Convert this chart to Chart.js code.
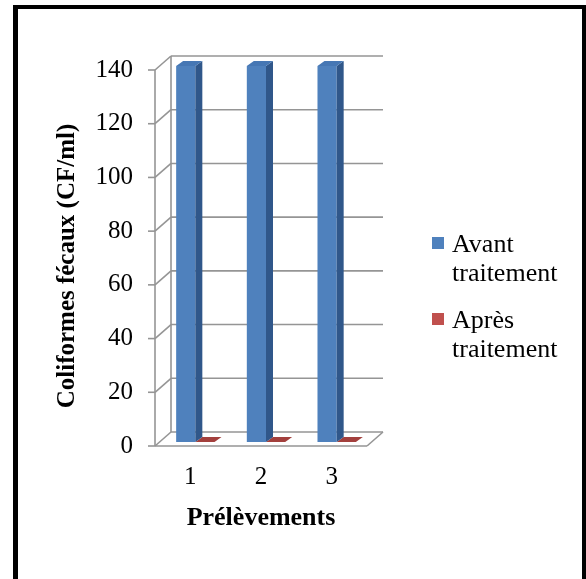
<!DOCTYPE html>
<html lang="fr">
<head>
  <meta charset="UTF-8">
  <title>Coliformes fécaux</title>
  <script src="https://cdn.jsdelivr.net/npm/chart.js@4"></script>
  <style>
    html, body { margin: 0; padding: 0; background: #fff; overflow: hidden; }
    canvas { display: block; }
  </style>
</head>
<body>
  <canvas id="chart" width="586" height="579"></canvas>

  <script>
    // Données
    const categories = ['1', '2', '3'];
    const avantTraitement = [140, 140, 140];
    const apresTraitement = [0, 0, 0];
    const seriesLabels = [['Avant', 'traitement'], ['Après', 'traitement']];
    const yMin = 0, yMax = 140, yStep = 20;

    const FONT = "'Liberation Serif', 'Times New Roman', serif";
    const GRID = '#959595';

    // profondeur du mur du fond et position des barres dans la profondeur
    const wall = { dx: 16, dy: -14 };
    const barShift = { dx: 5, dy: -4 };
    const barDepth = { dx: 7, dy: -5 };

    const faces = [
      { front: '#4F81BD', top: '#4677B4', side: '#30578A' },
      { front: '#C0504D', top: '#A3403D', side: '#8A3432' }
    ];

    function line(ctx, x1, y1, x2, y2) {
      ctx.beginPath();
      ctx.moveTo(x1, y1);
      ctx.lineTo(x2, y2);
      ctx.stroke();
    }

    function poly(ctx, pts, color) {
      ctx.beginPath();
      ctx.moveTo(pts[0][0], pts[0][1]);
      for (let i = 1; i < pts.length; i++) ctx.lineTo(pts[i][0], pts[i][1]);
      ctx.closePath();
      ctx.fillStyle = color;
      ctx.fill();
    }

    // cadre noir, murs, sol, faces 3D des barres, titre Y et légende
    const decor = {
      id: 'decor',
      beforeDraw(chart) {
        const ctx = chart.ctx;
        ctx.save();
        ctx.fillStyle = '#fff';
        ctx.fillRect(0, 0, chart.width, chart.height);
        ctx.fillStyle = '#000';
        ctx.fillRect(13, 5, 5, chart.height);
        ctx.fillRect(13, 5, 573, 4);
        ctx.fillRect(582, 5, 4, chart.height);
        ctx.restore();
      },
      beforeDatasetsDraw(chart) {
        const ctx = chart.ctx;
        const { left, right, top, bottom } = chart.chartArea;
        const ys = chart.scales.y;
        ctx.save();
        ctx.strokeStyle = GRID;
        ctx.lineWidth = 1.6;
        ys.ticks.forEach(t => {
          const py = ys.getPixelForValue(t.value);
          line(ctx, left - 7, py, left, py);
          line(ctx, left, py, left + wall.dx, py + wall.dy);
          line(ctx, left + wall.dx, py + wall.dy, right + wall.dx, py + wall.dy);
        });
        line(ctx, left, top, left, bottom);
        line(ctx, left + wall.dx, top + wall.dy, left + wall.dx, bottom + wall.dy);
        line(ctx, left, bottom, right, bottom);
        line(ctx, right, bottom, right + wall.dx, bottom + wall.dy);
        ctx.restore();

        ctx.save();
        ctx.translate(barShift.dx, barShift.dy);
      },
      afterDatasetsDraw(chart) {
        const ctx = chart.ctx;
        const { dx, dy } = barDepth;
        for (let d = chart.data.datasets.length - 1; d >= 0; d--) {
          const c = faces[d];
          chart.getDatasetMeta(d).data.forEach(bar => {
            const p = bar.getProps(['x', 'y', 'base', 'width'], true);
            const l = p.x - p.width / 2, r = p.x + p.width / 2;
            poly(ctx, [[r, p.y], [r + dx, p.y + dy], [r + dx, p.base + dy], [r, p.base]], c.side);
            poly(ctx, [[l, p.y], [r, p.y], [r + dx, p.y + dy], [l + dx, p.y + dy]], c.top);
          });
        }
        ctx.restore();
      },
      afterDraw(chart) {
        const ctx = chart.ctx;
        ctx.save();
        ctx.fillStyle = '#000';

        // titre de l'axe Y
        ctx.translate(68, 266);
        ctx.rotate(-Math.PI / 2);
        ctx.font = 'bold 25px ' + FONT;
        ctx.textAlign = 'center';
        ctx.textBaseline = 'middle';
        ctx.fillText('Coliformes fécaux (CF/ml)', 0, 0);
        ctx.setTransform(1, 0, 0, 1, 0, 0);

        // légende
        ctx.font = '26px ' + FONT;
        ctx.textAlign = 'left';
        ctx.textBaseline = 'alphabetic';
        chart.data.datasets.forEach((ds, i) => {
          const y0 = 237 + i * 76;
          ctx.fillStyle = ds.backgroundColor;
          ctx.fillRect(432, y0, 12, 12);
          ctx.fillStyle = '#000';
          seriesLabels[i].forEach((txt, k) => {
            ctx.fillText(txt, 452, y0 + 15 + k * 29);
          });
        });
        ctx.restore();
      }
    };

    new Chart(document.getElementById('chart'), {
      type: 'bar',
      data: {
        labels: categories,
        datasets: [
          { label: seriesLabels[0].join(' '), data: avantTraitement, backgroundColor: faces[0].front, clip: false },
          { label: seriesLabels[1].join(' '), data: apresTraitement, backgroundColor: faces[1].front, clip: false }
        ]
      },
      options: {
        responsive: false,
        animation: false,
        devicePixelRatio: 1,
        layout: { padding: { top: 70, right: 219, bottom: 0, left: 0 } },
        datasets: { bar: { categoryPercentage: 38 / 70, barPercentage: 1, borderWidth: 0 } },
        plugins: { legend: { display: false }, tooltip: { enabled: false } },
        scales: {
          x: {
            grid: { display: false, drawTicks: false },
            border: { display: false },
            ticks: { color: '#000', padding: 16, font: { family: FONT, size: 25 } },
            title: {
              display: true,
              text: 'Prélèvements',
              color: '#000',
              font: { family: FONT, size: 26, weight: 'bold' },
              padding: { top: 0, bottom: 45 }
            },
            afterFit(s) { s.height = 133; }
          },
          y: {
            min: yMin,
            max: yMax,
            grid: { display: false, drawTicks: false },
            border: { display: false },
            ticks: { stepSize: yStep, color: '#000', padding: 22, font: { family: FONT, size: 25 } },
            afterFit(s) { s.width = 155; }
          }
        }
      },
      plugins: [decor]
    });
  </script>
</body>
</html>
